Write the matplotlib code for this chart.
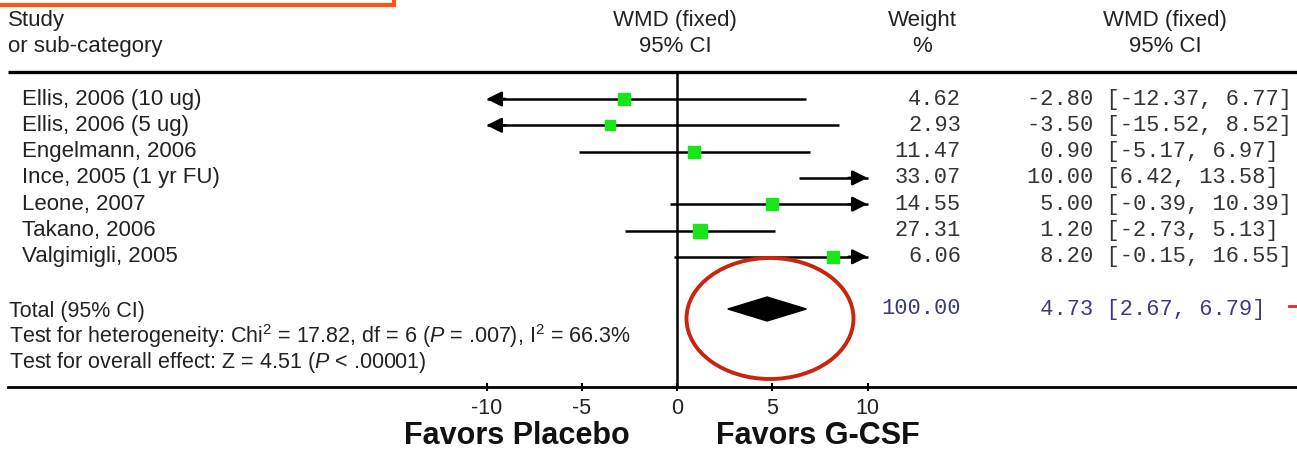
import matplotlib
matplotlib.use("Agg")
import matplotlib.pyplot as plt
from matplotlib.patches import Polygon, Ellipse, Rectangle

plt.rcParams['font.family'] = ['Liberation Sans', 'DejaVu Sans']
plt.rcParams['mathtext.fontset'] = 'custom'
plt.rcParams['mathtext.rm'] = 'Liberation Sans'
plt.rcParams['mathtext.it'] = 'Liberation Sans:italic'

# ---------------- data ----------------
studies = ["Ellis, 2006 (10 ug)", "Ellis, 2006 (5 ug)", "Engelmann, 2006",
           "Ince, 2005 (1 yr FU)", "Leone, 2007", "Takano, 2006", "Valgimigli, 2005"]
wmd = [-2.80, -3.50, 0.90, 10.00, 5.00, 1.20, 8.20]
ci_low = [-12.37, -15.52, -5.17, 6.42, -0.39, -2.73, -0.15]
ci_high = [6.77, 8.52, 6.97, 13.58, 10.39, 5.13, 16.55]
weights = [4.62, 2.93, 11.47, 33.07, 14.55, 27.31, 6.06]
total_wmd = 4.73
total_low = 2.67
total_high = 6.79
total_weight = 100.00
xticks = [-10, -5, 0, 5, 10]
xticklabels = ["-10", "-5", "0", "5", "10"]
clip_lo, clip_hi = -10, 10

# ---------------- layout (pixel mapping) ----------------
W, H = 1297, 450
X0, XS = 677.0, 19.05      # pixel of 0, pixels per unit
Y0, YS = 99.0, 26.3        # pixel of first row, pixels per row

def px(x):
    return (x - X0) / XS

def py(y):
    return (y - Y0) / YS

fig = plt.figure(figsize=(W / 100, H / 100), dpi=100)
ax = fig.add_axes([0, 0, 1, 1])
ax.set_xlim(px(0), px(W))
ax.set_ylim(py(H), py(0))
for s in ['top', 'left', 'right']:
    ax.spines[s].set_visible(False)
ax.set_yticks([])

# bottom axis line with ticks
axis_y = py(387)
ax.spines['bottom'].set_position(('data', axis_y))
ax.spines['bottom'].set_bounds(px(8), px(W))
ax.spines['bottom'].set_linewidth(2.0)
ax.set_xticks(xticks)
ax.set_xticklabels(xticklabels)
ax.tick_params(axis='x', direction='inout', length=6, width=1.5, pad=5,
               labelsize=15.5, labelcolor='#222222')

# header line and vertical zero line
head_y = py(72)
ax.plot([px(8), px(W)], [head_y, head_y], color='black', lw=2.4, solid_capstyle='butt')
ax.plot([0, 0], [head_y, axis_y], color='black', lw=1.8)

txt = '#222222'
sans = 16
mono = 15.8

# headers
ax.text(px(8), py(20), "Study", fontsize=sans, color=txt, va='center', ha='left')
ax.text(px(8), py(46), "or sub-category", fontsize=sans, color=txt, va='center', ha='left')
ax.text(px(675), py(20), "WMD (fixed)", fontsize=sans, color=txt, va='center', ha='center')
ax.text(px(675), py(46), "95% CI", fontsize=sans, color=txt, va='center', ha='center')
ax.text(px(922), py(20), "Weight", fontsize=sans, color=txt, va='center', ha='center')
ax.text(px(922), py(46), "%", fontsize=sans, color=txt, va='center', ha='center')
ax.text(px(1165), py(20), "WMD (fixed)", fontsize=sans, color=txt, va='center', ha='center')
ax.text(px(1165), py(46), "95% CI", fontsize=sans, color=txt, va='center', ha='center')

# study rows
for i, (name, m, lo, hi, w) in enumerate(zip(studies, wmd, ci_low, ci_high, weights)):
    ax.text(px(22), i, name, fontsize=sans, color=txt, va='center', ha='left')
    a = max(lo, clip_lo)
    b = min(hi, clip_hi)
    ax.plot([a, b], [i, i], color='black', lw=1.8, solid_capstyle='butt', zorder=2)
    if lo < clip_lo:
        ax.annotate('', xy=(clip_lo, i), xytext=(clip_lo + 1, i),
                    arrowprops=dict(arrowstyle='-|>,head_length=0.9,head_width=0.45',
                                    color='black', lw=1.8, shrinkA=0, shrinkB=0,
                                    mutation_scale=10))
    if hi > clip_hi:
        ax.annotate('', xy=(clip_hi, i), xytext=(clip_hi - 1, i),
                    arrowprops=dict(arrowstyle='-|>,head_length=0.9,head_width=0.45',
                                    color='black', lw=1.8, shrinkA=0, shrinkB=0,
                                    mutation_scale=10))
    if clip_lo < m < clip_hi:
        ax.plot([m], [i], marker='s', ms=7.5 + 0.1 * w, color='#19e619',
                mec='#19e619', zorder=3)
    ax.text(px(961), i, f"{w:.2f}", fontsize=mono, family='Liberation Mono',
            color='#333333', va='center', ha='right')
    ax.text(px(1027), i, f"{m:5.2f} [{lo:.2f}, {hi:.2f}]", fontsize=mono,
            family='Liberation Mono', color='#333333', va='center', ha='left')

# total row
tr = py(309)
ax.text(px(9), py(311), "Total (95% CI)", fontsize=15.5, color=txt, va='center', ha='left')
dh = 12 / YS
ax.add_patch(Polygon([(total_low, tr), (total_wmd, tr - dh), (total_high, tr),
                      (total_wmd, tr + dh)], closed=True, color='black', zorder=3))
ax.text(px(961), tr, f"{total_weight:.2f}", fontsize=mono, family='Liberation Mono',
        color='#3a3a80', va='center', ha='right')
ax.text(px(1027), tr, f"{total_wmd:5.2f} [{total_low:.2f}, {total_high:.2f}]",
        fontsize=mono, family='Liberation Mono', color='#3a3a80', va='center', ha='left')

ax.text(px(9), py(336),
        r"Test for heterogeneity: Chi$^2$ = 17.82, df = 6 ($\mathit{P}$ = .007), I$^2$ = 66.3%",
        fontsize=15.5, color=txt, va='center', ha='left')
ax.text(px(9), py(362),
        r"Test for overall effect: Z = 4.51 ($\mathit{P}$ < .00001)",
        fontsize=15.5, color=txt, va='center', ha='left')

# favors labels
ax.text(px(517), py(436), "Favors Placebo", fontsize=22, fontweight='bold',
        color='#111111', va='center', ha='center')
ax.text(px(818), py(436), "Favors G-CSF", fontsize=22, fontweight='bold',
        color='#111111', va='center', ha='center')

# annotations: red ellipse, orange box, red dash
ax.add_patch(Ellipse((px(770), py(318.5)), 167 / XS, 121 / YS, fill=False,
                     edgecolor='#c8240e', lw=2.8, zorder=4))
ax.add_patch(Rectangle((px(-10), py(-40)), 404 / XS, 45 / YS, fill=False,
                       edgecolor='#ff5511', lw=3.0, clip_on=False, zorder=5))
ax.plot([px(1289), px(W)], [py(306), py(306)], color='#ee2222', lw=2.0)

fig.savefig("out.png", dpi=100)
